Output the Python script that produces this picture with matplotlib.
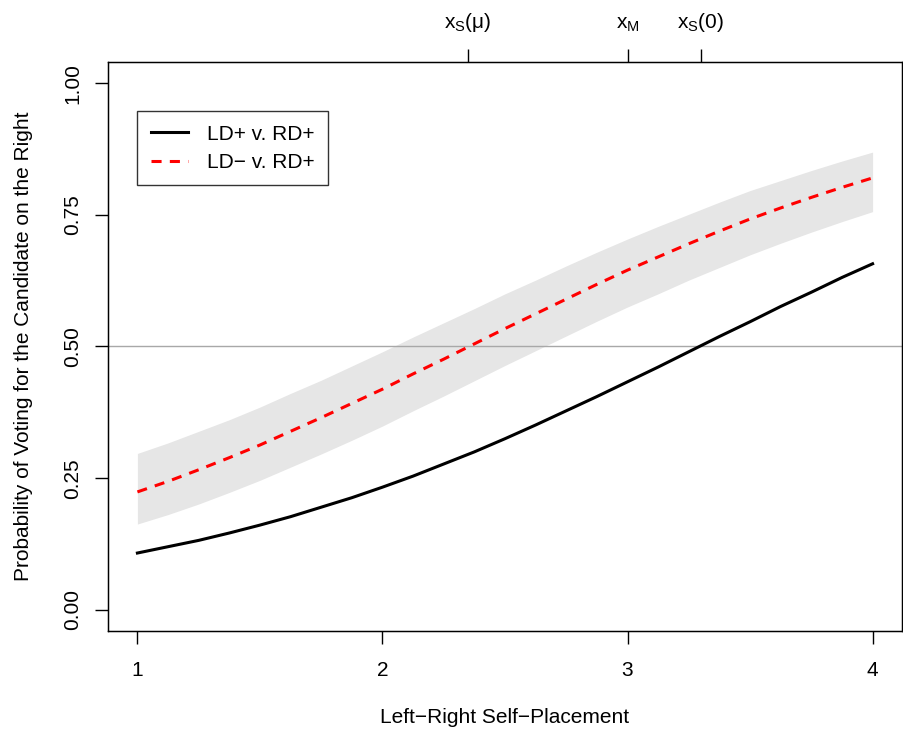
import numpy as np
import matplotlib.pyplot as plt

plt.rcParams['font.family'] = ['Liberation Sans', 'DejaVu Sans']
plt.rcParams['mathtext.fontset'] = 'custom'
plt.rcParams['mathtext.rm'] = 'Liberation Sans'
plt.rcParams['mathtext.it'] = 'Liberation Sans'

# left-right self placement
x = [1.0, 1.125, 1.25, 1.375, 1.5, 1.625, 1.75, 1.875, 2.0, 2.125, 2.25, 2.375, 2.5,
     2.625, 2.75, 2.875, 3.0, 3.125, 3.25, 3.375, 3.5, 3.625, 3.75, 3.875, 4.0]
# LD+ v. RD+
p_plus = [0.108, 0.120, 0.132, 0.146, 0.161, 0.177, 0.195, 0.213, 0.233, 0.254, 0.277, 0.300, 0.325,
          0.351, 0.378, 0.405, 0.433, 0.461, 0.490, 0.519, 0.547, 0.576, 0.603, 0.631, 0.657]
# LD- v. RD+
p_minus = [0.224, 0.244, 0.266, 0.289, 0.313, 0.339, 0.365, 0.392, 0.419, 0.448, 0.476, 0.505, 0.534,
           0.562, 0.590, 0.618, 0.645, 0.670, 0.695, 0.719, 0.742, 0.763, 0.783, 0.802, 0.820]
ci_upper = [0.297, 0.317, 0.339, 0.361, 0.385, 0.411, 0.436, 0.463, 0.490, 0.518, 0.545, 0.572, 0.600,
            0.626, 0.653, 0.679, 0.704, 0.728, 0.751, 0.774, 0.796, 0.815, 0.834, 0.852, 0.869]
ci_lower = [0.163, 0.181, 0.201, 0.223, 0.246, 0.271, 0.296, 0.322, 0.349, 0.378, 0.406, 0.435, 0.464,
            0.492, 0.520, 0.548, 0.575, 0.600, 0.626, 0.650, 0.674, 0.696, 0.717, 0.737, 0.756]

top_ticks = [2.35, 3.0, 3.3]
top_labels = [r'$\mathregular{x_S(\mu)}$', r'$\mathregular{x_M}$', r'$\mathregular{x_S(0)}$']

fs = 15

fig = plt.figure(figsize=(9.04, 7.36), dpi=100)
ax = fig.add_axes([108/904, 1 - 631/736, (902-108)/904, (631-62)/736])

ax.fill_between(x, ci_lower, ci_upper, color='#e6e6e6', lw=0)
ax.axhline(0.5, color='#a8a8a8', lw=1.0)
ax.plot(x, p_plus, color='black', lw=2.2, label='LD+ v. RD+')
ax.plot(x, p_minus, color='red', lw=2.2, dashes=(3.3, 2.7), label='LD\u2212 v. RD+')

ax.set_xlim(0.88, 4.12)
ax.set_ylim(-0.04, 1.04)
ax.set_xticks([1, 2, 3, 4])
ax.set_yticks([0, 0.25, 0.5, 0.75, 1.0])
ax.set_yticklabels(['0.00', '0.25', '0.50', '0.75', '1.00'], rotation=90, va='center')
ax.tick_params(direction='out', length=9.4, width=1.0, labelsize=fs, pad=9)
ax.tick_params(axis='x', pad=12.5)
for s in ax.spines.values():
    s.set_linewidth(1.0)

ax.set_xlabel('Left\u2212Right Self\u2212Placement', fontsize=fs, labelpad=20)
ax.set_ylabel('Probability of Voting for the Candidate on the Right', fontsize=fs, labelpad=22)

top = ax.twiny()
top.set_xlim(ax.get_xlim())
top.set_xticks(top_ticks)
top.set_xticklabels(top_labels)
top.tick_params(direction='out', length=9.4, width=1.0, labelsize=fs, pad=11)

leg = ax.legend(loc='upper left', bbox_to_anchor=(1.0, 0.947), bbox_transform=ax.transData,
                fontsize=fs, frameon=True, fancybox=False, borderaxespad=0,
                handlelength=1.8, handletextpad=0.9, labelspacing=0.45, borderpad=0.65)
leg.get_frame().set_edgecolor('black')
leg.get_frame().set_linewidth(1.0)

fig.savefig('out.png', dpi=100)
